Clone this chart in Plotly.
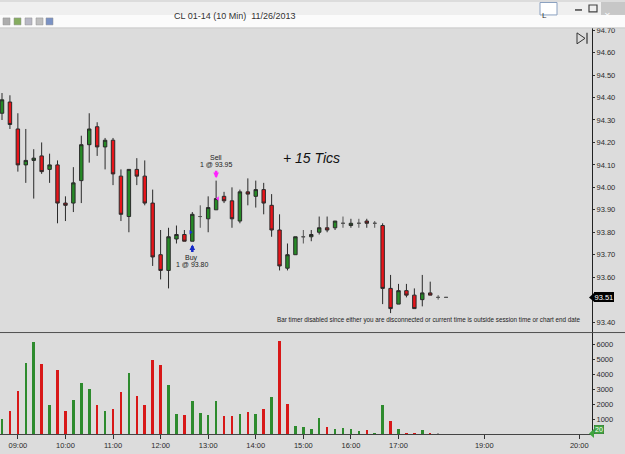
import plotly.graph_objects as go

# ---------------- data ----------------
times = ["08:40", "08:50", "09:00", "09:10", "09:20", "09:30", "09:40", "09:50", "10:00", "10:10",
         "10:20", "10:30", "10:40", "10:50", "11:00", "11:10", "11:20", "11:30", "11:40", "11:50",
         "12:00", "12:10", "12:20", "12:30", "12:40", "12:50", "13:00", "13:10", "13:20", "13:30",
         "13:40", "13:50", "14:00", "14:10", "14:20", "14:30", "14:40", "14:50", "15:00", "15:10",
         "15:20", "15:30", "15:40", "15:50", "16:00", "16:10", "16:20", "16:30", "16:40", "16:50",
         "17:00", "17:10", "17:20", "17:30", "17:40", "17:50", "18:00"]
opens = [94.33, 94.38, 94.26, 94.10, 94.12, 94.14, 94.08, 94.10, 93.93, 93.93,
         94.03, 94.19, 94.27, 94.18, 94.21, 94.05, 93.87, 94.08, 94.05, 93.93,
         93.70, 93.63, 93.77, 93.79, 93.76, 93.87, 93.86, 93.90, 93.96, 93.94,
         93.85, 93.98, 93.96, 93.99, 93.92, 93.81, 93.64, 93.70, 93.78, 93.78,
         93.80, 93.82, 93.82, 93.84, 93.83, 93.84, 93.85, 93.84, 93.83, 93.55,
         93.48, 93.54, 93.52, 93.50, 93.53, 93.51, 93.51]
highs = [94.42, 94.41, 94.33, 94.26, 94.17, 94.20, 94.15, 94.12, 93.96, 94.09,
         94.23, 94.33, 94.29, 94.22, 94.22, 94.08, 94.08, 94.13, 94.12, 93.99,
         93.81, 93.82, 93.83, 93.81, 93.89, 93.92, 93.96, 94.03, 93.98, 94.00,
         93.99, 94.04, 94.03, 94.02, 93.97, 93.88, 93.75, 93.78, 93.81, 93.81,
         93.87, 93.87, 93.85, 93.87, 93.86, 93.86, 93.86, 93.85, 93.84, 93.61,
         93.57, 93.57, 93.55, 93.61, 93.58, 93.52, 93.51]
lows = [94.30, 94.26, 94.07, 94.02, 93.95, 94.06, 94.02, 93.84, 93.85, 93.89,
        93.93, 94.11, 94.14, 94.08, 94.01, 93.85, 93.80, 94.01, 93.92, 93.65,
        93.59, 93.55, 93.75, 93.76, 93.76, 93.82, 93.80, 93.90, 93.93, 93.82,
        93.84, 93.92, 93.91, 93.88, 93.78, 93.63, 93.63, 93.70, 93.75, 93.76,
        93.79, 93.80, 93.81, 93.82, 93.82, 93.82, 93.82, 93.82, 93.48, 93.44,
        93.48, 93.51, 93.46, 93.47, 93.52, 93.50, 93.51]
closes = [94.39, 94.28, 94.10, 94.12, 94.13, 94.07, 94.10, 93.93, 93.92, 94.02,
          94.19, 94.26, 94.18, 94.21, 94.06, 93.88, 94.08, 94.05, 93.93, 93.69,
          93.63, 93.78, 93.79, 93.76, 93.88, 93.87, 93.91, 93.95, 93.94, 93.86,
          93.98, 93.97, 93.99, 93.93, 93.81, 93.65, 93.70, 93.78, 93.78, 93.79,
          93.82, 93.81, 93.85, 93.84, 93.84, 93.84, 93.84, 93.84, 93.55, 93.46,
          93.54, 93.52, 93.46, 93.53, 93.52, 93.51, 93.51]
volumes = [1050, 1620, 2930, 4840, 6240, 4730, 2000, 4310, 1620, 2330,
           3490, 3040, 2000, 1620, 1710, 2840, 4130, 2570, 1970, 5000,
           4690, 3370, 1400, 1350, 2290, 1440, 1350, 2240, 1240, 1240,
           1400, 1510, 1370, 1750, 2530, 6290, 2040, 620, 530, 420,
           1150, 530, 420, 490, 420, 270, 310, 150, 1970, 910,
           420, 130, 150, 350, 80, 60, 20]
# u = up volume, d = down volume, n = neutral
vol_side = list("udduududdu" "uududduddd" "duuduuuudd" "udududduuu" "uduuuuduud" "uddudnn")
price_ticks = [93.40, 93.60, 93.70, 93.80, 93.90, 94.00, 94.10, 94.20, 94.30, 94.40, 94.50, 94.60, 94.70]
vol_ticks = [1000, 2000, 3000, 4000, 5000, 6000]
time_labels = ["09:00", "10:00", "11:00", "12:00", "13:00", "14:00", "15:00", "16:00", "17:00", "19:00", "20:00"]
future_tick_pos = {"19:00": 60.82, "20:00": 72.8}

trade_entry = ("Buy", 24, 93.80)
trade_exit = ("Sell", 27, 93.95)
title_text = "CL 01-14 (10 Min)\u00a0\u00a011/26/2013"
profit_text = "+ 15 Tics"
status_text = ("Bar timer disabled since either you are disconnected or current time "
               "is outside session time or chart end date")

# ---------------- geometry helpers ----------------
W, H = 625, 454
def px(x):
    return x / W
def py(y):
    return 1 - y / H

PRICE_TOP, PRICE_BOT = 26, 332
VOL_TOP, VOL_BOT = 332, 434.3
AXIS_X = 592
p_hi = 94.70 + (28.3 - PRICE_TOP) / 225.5
p_lo = 93.40 - (PRICE_BOT - 321.5) / 225.5
v_hi = (VOL_BOT - VOL_TOP) / 15.0 * 1000
x_lo = (0 - 2) / 7.93
x_hi = (AXIS_X - 2) / 7.93

def price_to_py(p):
    return PRICE_TOP + (p_hi - p) / (p_hi - p_lo) * (PRICE_BOT - PRICE_TOP)
def py_to_price(y):
    return p_hi - (y - PRICE_TOP) / (PRICE_BOT - PRICE_TOP) * (p_hi - p_lo)

UP_FILL, DN_FILL = "#268a26", "#e8141a"
UP_VOL, DN_VOL, NEU_VOL = "#2e8b2e", "#d81818", "#9a9a9a"
OUTLINE = "#2a2a2a"
BG = "#dcdcdc"

idx = list(range(len(times)))
up = [i for i in idx if closes[i] > opens[i]]
dn = [i for i in idx if closes[i] < opens[i]]
fl = [i for i in idx if closes[i] == opens[i]]

fig = go.Figure()

def add_candles(sel, fill, line_col):
    fig.add_trace(go.Candlestick(
        x=sel,
        open=[opens[i] for i in sel], high=[highs[i] for i in sel],
        low=[lows[i] for i in sel], close=[closes[i] for i in sel],
        increasing=dict(fillcolor=fill, line=dict(color=line_col, width=1)),
        decreasing=dict(fillcolor=fill, line=dict(color=line_col, width=1)),
        hoverinfo="skip", xaxis="x", yaxis="y", showlegend=False))

add_candles(up, UP_FILL, OUTLINE)
add_candles(dn, DN_FILL, OUTLINE)
add_candles(fl, "#7a7a7a", "#555555")

side_col = {"u": UP_VOL, "d": DN_VOL, "n": NEU_VOL}
fig.add_trace(go.Bar(
    x=idx, y=volumes, width=0.32,
    marker=dict(color=[side_col[s] for s in vol_side], line=dict(width=0)),
    hoverinfo="skip", xaxis="x", yaxis="y2", showlegend=False))

# execution markers
fig.add_trace(go.Scatter(x=[trade_entry[1] - 0.22], y=[trade_entry[2]], mode="markers",
                         marker=dict(symbol="triangle-right", size=4, color="#1c2fd6"),
                         hoverinfo="skip", showlegend=False, xaxis="x", yaxis="y"))
fig.add_trace(go.Scatter(x=[trade_exit[1] + 0.22], y=[trade_exit[2]], mode="markers",
                         marker=dict(symbol="triangle-left", size=4, color="#ff33ff"),
                         hoverinfo="skip", showlegend=False, xaxis="x", yaxis="y"))

tickvals = [times.index(t) if t in times else future_tick_pos[t] for t in time_labels]

axfont = dict(family="Liberation Sans, Arial, sans-serif", size=7.5, color="#2a2a2a")

shapes = [
    # title bar + toolbar
    dict(type="rect", xref="paper", yref="paper", x0=0, x1=1, y0=py(13), y1=1,
         fillcolor="#efefef", line=dict(width=0), layer="above"),
    dict(type="rect", xref="paper", yref="paper", x0=0, x1=1, y0=py(26), y1=py(13),
         fillcolor="#fbfbfb", line=dict(width=0), layer="above"),
    dict(type="line", xref="paper", yref="paper", x0=0, x1=1, y0=py(26), y1=py(26),
         line=dict(color="#c8c8c8", width=1), layer="above"),
    # window buttons
    dict(type="rect", xref="paper", yref="paper", x0=px(540), x1=px(557), y0=py(13), y1=py(0.5),
         fillcolor="#ffffff", line=dict(color="#8aa0c0", width=1), layer="above"),
    dict(type="line", xref="paper", yref="paper", x0=px(575), x1=px(582), y0=py(8), y1=py(8),
         line=dict(color="#444", width=1.5), layer="above"),
    dict(type="rect", xref="paper", yref="paper", x0=px(589), x1=px(597), y0=py(10), y1=py(3),
         line=dict(color="#444", width=1.2), layer="above"),
    dict(type="rect", xref="paper", yref="paper", x0=px(601), x1=px(625), y0=py(13), y1=1,
         fillcolor="#c7c7c7", line=dict(width=0), layer="above"),
    # panel separator
    dict(type="line", xref="paper", yref="paper", x0=0, x1=1, y0=py(VOL_TOP), y1=py(VOL_TOP),
         line=dict(color="#505050", width=1), layer="above"),
    # "go to end" icon
    dict(type="path", xref="paper", yref="paper",
         path=f"M{px(577)},{py(31)} L{px(585)},{py(36.5)} L{px(577)},{py(42)} Z",
         line=dict(color="#333", width=1), layer="above"),
    dict(type="line", xref="paper", yref="paper", x0=px(587), x1=px(587), y0=py(31), y1=py(42),
         line=dict(color="#333", width=1.2), layer="above"),
]

# toolbar icons
icon_cols = [("#9a9a9a", 3), ("#6a9a3a", 14), ("#a8a8b8", 25), ("#b0b0b0", 36), ("#5a78b8", 46)]
for col, x0 in icon_cols:
    shapes.append(dict(type="rect", xref="paper", yref="paper", x0=px(x0), x1=px(x0 + 7),
                       y0=py(23), y1=py(16), fillcolor=col, line=dict(color="#777", width=0.5),
                       opacity=0.8, layer="above"))

# pointer tips for the last-price / last-volume tags
ly = price_to_py(closes[-1])
vy = VOL_BOT - volumes[-1] / 1000 * 15 - 0.5
shapes.append(dict(type="path", xref="paper", yref="paper",
                   path=f"M{px(589)},{py(ly)} L{px(594)},{py(ly-4.5)} L{px(594)},{py(ly+4.5)} Z",
                   fillcolor="#000000", line=dict(width=0), layer="above"))
shapes.append(dict(type="path", xref="paper", yref="paper",
                   path=f"M{px(589)},{py(vy)} L{px(594)},{py(vy-4.5)} L{px(594)},{py(vy+4.5)} Z",
                   fillcolor="#3fa63f", line=dict(width=0), layer="above"))

small = dict(family="Liberation Sans, Arial, sans-serif", size=7, color="#222")
annotations = [
    dict(text=title_text, xref="paper", yref="paper", x=px(235), y=py(7), showarrow=False,
         font=dict(family="Liberation Sans, Arial, sans-serif", size=9, color="#333")),
    dict(text="L", xref="paper", yref="paper", x=px(548.5), y=py(7), showarrow=False,
         font=dict(family="Liberation Sans, Arial, sans-serif", size=8, color="#333")),
    dict(text="\u2715", xref="paper", yref="paper", x=px(613), y=py(7), showarrow=False,
         font=dict(family="DejaVu Sans, sans-serif", size=8, color="#ffffff")),
    dict(text="<i>" + profit_text + "</i>", xref="paper", yref="paper", x=px(311), y=py(146.5),
         showarrow=False, font=dict(family="Liberation Sans, Arial, sans-serif", size=14, color="#111")),
    dict(text=status_text, xref="paper", yref="paper", x=px(582.5), y=py(325), xanchor="right",
         showarrow=False, font=dict(family="Liberation Sans, Arial, sans-serif", size=6.3, color="#222")),
    dict(text=trade_exit[0], x=trade_exit[1], y=py_to_price(156), xref="x", yref="y",
         showarrow=False, font=small),
    dict(text=f"1 @ {trade_exit[2]:.2f}", x=trade_exit[1], y=py_to_price(163.3),
         xref="x", yref="y", showarrow=False, font=small),
    dict(text=trade_entry[0], x=trade_entry[1] - 0.05, y=py_to_price(256.7), xref="x", yref="y",
         showarrow=False, font=small),
    dict(text=f"1 @ {trade_entry[2]:.2f}", x=trade_entry[1], y=py_to_price(264),
         xref="x", yref="y", showarrow=False, font=small),
    # arrows
    dict(text="", x=trade_exit[1], y=py_to_price(177), xref="x", yref="y",
         ax=trade_exit[1], ay=py_to_price(168), axref="x", ayref="y",
         showarrow=True, arrowhead=2, arrowsize=0.45, arrowwidth=2.5, arrowcolor="#ff22ff", standoff=0),
    dict(text="", x=trade_entry[1], y=py_to_price(243.5), xref="x", yref="y",
         ax=trade_entry[1], ay=py_to_price(252.5), axref="x", ayref="y",
         showarrow=True, arrowhead=2, arrowsize=0.45, arrowwidth=2.5, arrowcolor="#1428c8", standoff=0),
    # price / volume tags
    dict(text=f"{closes[-1]:.2f}", xref="paper", yref="paper", x=px(593.5), y=py(ly),
         xanchor="left", showarrow=False, bgcolor="#000000", borderpad=0.5, borderwidth=0,
         font=dict(family="Liberation Sans, Arial, sans-serif", size=7.5, color="#ffffff")),
    dict(text=f"{volumes[-1]}", xref="paper", yref="paper", x=px(593.5), y=py(vy),
         xanchor="left", showarrow=False, bgcolor="#3fa63f", bordercolor="#1f6a1f",
         borderwidth=0.5, borderpad=0.5,
         font=dict(family="Liberation Sans, Arial, sans-serif", size=7, color="#ffffff")),
]

fig.update_layout(
    width=W, height=H, margin=dict(l=0, r=0, t=0, b=0, pad=0),
    paper_bgcolor=BG, plot_bgcolor=BG, showlegend=False, boxgap=0.38,
    bargap=0,
    xaxis=dict(domain=[0, px(AXIS_X)], range=[x_lo, x_hi], anchor="y2",
               tickvals=tickvals, ticktext=time_labels, ticks="outside", ticklen=4,
               tickcolor="#333", showline=True, linecolor="#444", linewidth=1,
               showgrid=False, zeroline=False, tickfont=axfont,
               rangeslider=dict(visible=False), fixedrange=True),
    yaxis=dict(domain=[py(PRICE_BOT), py(PRICE_TOP)], range=[p_lo, p_hi], side="right",
               anchor="x", tickvals=price_ticks, ticktext=[f"{v:.2f}" for v in price_ticks],
               ticks="outside", ticklen=2, tickcolor="#333", showline=True, linecolor="#222",
               showgrid=False, zeroline=False, tickfont=axfont, fixedrange=True),
    yaxis2=dict(domain=[py(VOL_BOT), py(VOL_TOP)], range=[0, v_hi], side="right",
                anchor="x", tickvals=vol_ticks, ticktext=[str(v) for v in vol_ticks],
                ticks="outside", ticklen=2, tickcolor="#333", showline=True, linecolor="#222",
                showgrid=False, zeroline=False, tickfont=axfont, fixedrange=True),
    shapes=shapes, annotations=annotations,
)

fig.write_html("out.html")
